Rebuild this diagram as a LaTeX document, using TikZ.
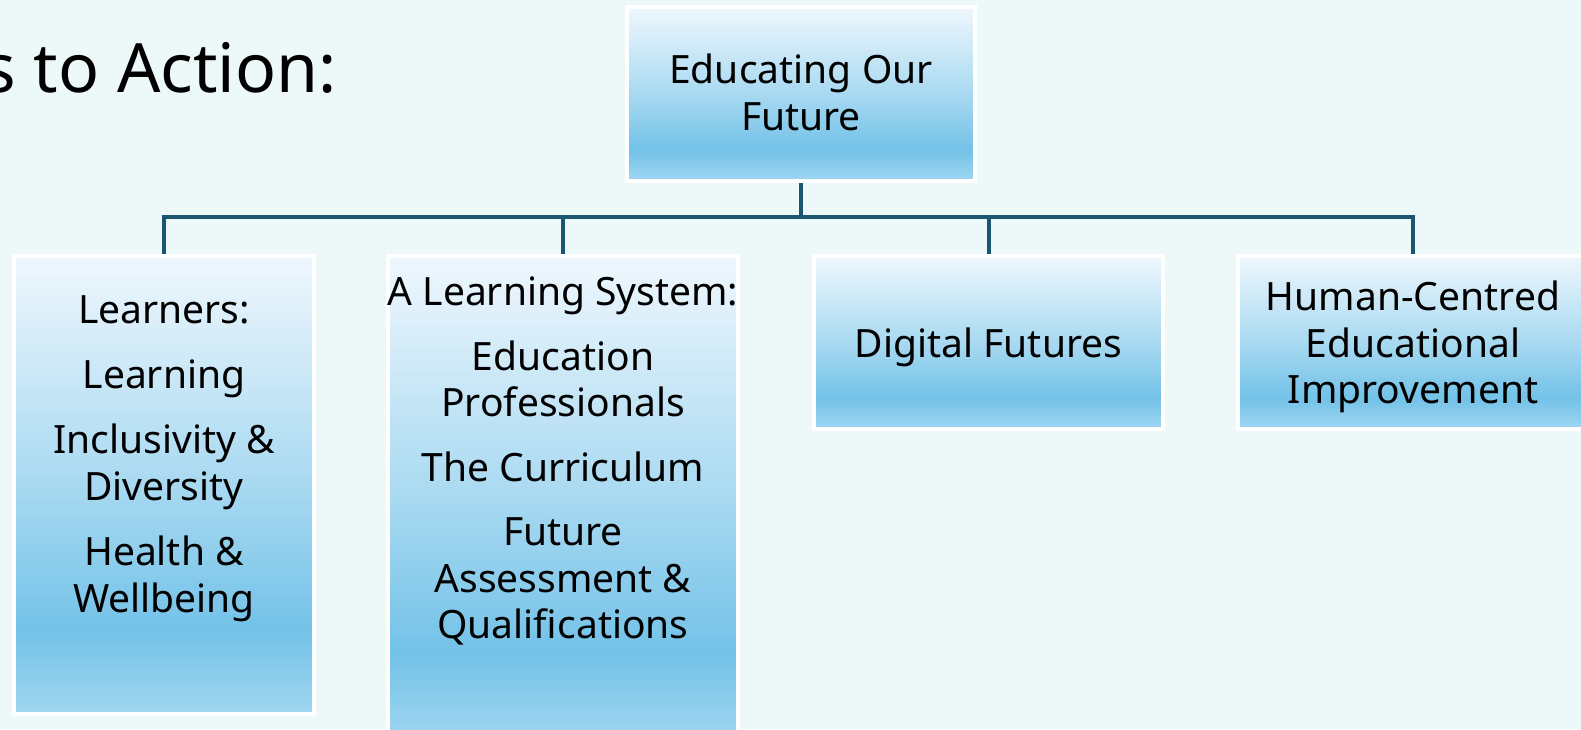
\documentclass[tikz,border=0pt]{standalone}
\usepackage{fontspec}
\setmainfont{Noto Sans}
\definecolor{bg}{HTML}{EDF8F8}
\definecolor{ctop}{HTML}{EFF7FD}
\definecolor{cmid}{HTML}{A8D9F1}
\definecolor{cdeep}{HTML}{73C2E8}
\definecolor{cbot}{HTML}{A0D6F0}
\definecolor{conn}{HTML}{1B5570}
\pgfdeclareverticalshading{boxshade}{100bp}{color(0bp)=(cbot); color(25bp)=(cbot); color(34bp)=(cdeep); color(50bp)=(cmid); color(75bp)=(ctop); color(100bp)=(ctop)}
\tikzset{
  box/.style={rectangle, draw=white, line width=4pt, shading=boxshade, inner sep=0pt},
  lbl/.style={anchor=base, inner sep=0pt, font=\fontsize{39}{47}\selectfont},
  ttl/.style={anchor=base east, inner sep=0pt, font=\fontsize{68}{80}\selectfont},
  conn/.style={draw=conn, line width=4pt}
}
\begin{document}
\begin{tikzpicture}[x=1pt,y=-1pt]
\fill[bg] (0,0) rectangle (1581,729);
\node[ttl] (title) at (337,92) {s to Action:};
% boxes
\node[box, minimum width=348pt, minimum height=174pt] (top) at (801,94) {};
\node[box, minimum width=300pt, minimum height=458pt] (b1) at (164,485) {};
\node[box, minimum width=350pt, minimum height=484pt] (b2) at (563,498) {};
\node[box, minimum width=349pt, minimum height=173pt] (b3) at (988.5,342.5) {};
\node[box, minimum width=350pt, minimum height=173pt] (b4) at (1413,342.5) {};
% connectors
\coordinate (bus) at (801,217);
\draw[conn] (top.south) -- (bus);
\draw[conn, line cap=rect] (b1.north |- bus) -- (b4.north |- bus);
\draw[conn] (b1.north |- bus) -- (b1.north);
\draw[conn] (b2.north |- bus) -- (b2.north);
\draw[conn] (b3.north |- bus) -- (b3.north);
\draw[conn] (b4.north |- bus) -- (b4.north);
% texts
\node[lbl] (t1) at (801,83) {Educating Our};
\node[lbl] (t2) at (801,130) {Future};
\node[lbl] (l1) at (164,323) {Learners:};
\node[lbl] (l2) at (164,388) {Learning};
\node[lbl] (l3) at (164,453) {Inclusivity \&};
\node[lbl] (l4) at (164,500) {Diversity};
\node[lbl] (l5) at (164,565) {Health \&};
\node[lbl] (l6) at (164,612) {Wellbeing};
\node[lbl] (s1) at (563,305) {A Learning System:};
\node[lbl] (s2) at (563,370) {Education};
\node[lbl] (s3) at (563,416) {Professionals};
\node[lbl] (s4) at (563,481) {The Curriculum};
\node[lbl] (s5) at (563,545) {Future};
\node[lbl] (s6) at (563,592) {Assessment \&};
\node[lbl] (s7) at (563,638) {Qualifications};
\node[lbl] (d1) at (988.5,357) {Digital Futures};
\node[lbl] (h1) at (1413,310) {Human-Centred};
\node[lbl] (h2) at (1413,357) {Educational};
\node[lbl] (h3) at (1413,403) {Improvement};
\pgfresetboundingbox
\useasboundingbox (0,0) rectangle (1581,729);
\end{tikzpicture}
\end{document}
